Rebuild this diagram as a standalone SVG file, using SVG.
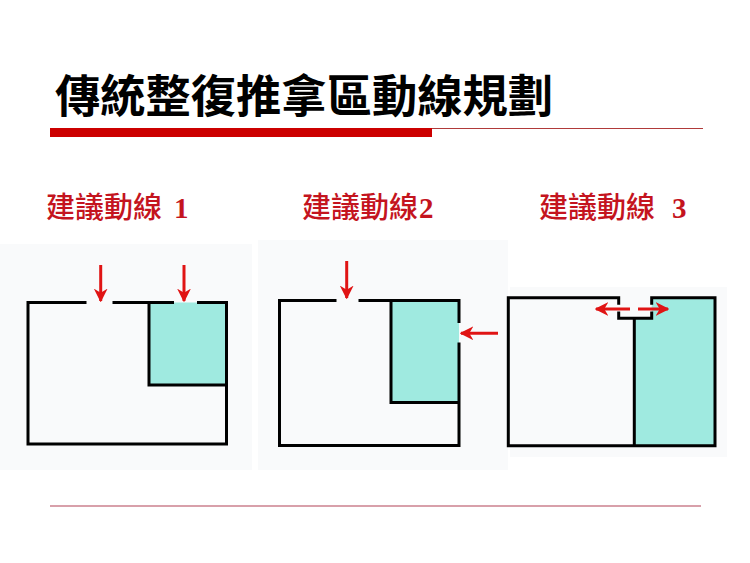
<svg xmlns="http://www.w3.org/2000/svg" width="750" height="563" viewBox="0 0 750 563">
<defs>
<style>
.wall{fill:none;stroke:#000;stroke-width:3;stroke-linecap:square}
.teal{fill:#9feae0}
.bg{fill:#f9fafb}
.flow{fill:none;stroke:#e01414;stroke-width:3}
.title{font-family:"Noto Sans CJK TC","Noto Sans CJK SC",sans-serif;font-size:45px;font-weight:700;fill:#000}
.lab{font-family:"Noto Sans CJK TC","Noto Sans CJK SC",serif;font-size:29px;font-weight:500;fill:#c4141e}
.num{font-family:"Liberation Serif",serif;font-weight:700;font-size:29px}
</style>
<marker id="ah" viewBox="0 0 10 10" refX="9" refY="5" markerWidth="4.6" markerHeight="4.6" orient="auto" markerUnits="strokeWidth">
<path d="M0,0 L10,5 L0,10 L3,5 z" fill="#e01414"/>
</marker>
</defs>
<rect width="750" height="563" fill="#fff"/>
<g id="header">
<text class="title" x="55" y="113" textLength="498" lengthAdjust="spacingAndGlyphs">傳統整復推拿區動線規劃</text>
<rect x="50" y="128" width="382" height="9" fill="#cc0000"/>
<line x1="432" y1="128.5" x2="703" y2="128.5" stroke="#b03a3a" stroke-width="1"/>
</g>
<g id="labels">
<text class="lab" x="46" y="218">建議動線<tspan class="num" x="174">1</tspan></text>
<text class="lab" x="302" y="218">建議動線<tspan class="num" x="419">2</tspan></text>
<text class="lab" x="539" y="218">建議動線<tspan class="num" x="672">3</tspan></text>
</g>
<g id="plan1">
<rect class="bg" x="0" y="244" width="252" height="226"/>
<rect class="teal" x="149" y="302.5" width="77.5" height="82.5"/>
<path class="wall" d="M85,302.5 H28 V444 H226.5 V302.5 H198.5 M114,302.5 H172.5 M149,302.5 V385 H226.5"/>
</g>
<g id="plan2">
<rect class="bg" x="258" y="240" width="250" height="230"/>
<rect class="teal" x="391" y="300.5" width="68" height="102"/>
<path class="wall" d="M335,300.5 H279.5 V445.5 H459 V344 M459,321.5 V300.5 H360 M391,300.5 V402.5 H459"/>
</g>
<g id="plan3">
<rect class="bg" x="510" y="287" width="217" height="170"/>
<path class="teal" d="M651.7,297.7 H715 V445.7 H634.3 V318.3 H651.7 Z"/>
<path class="wall" d="M618.7,303.3 V297.7 H508.3 V445.7 H715 V297.7 H651.7 V303.3 M618.7,313 V318.3 H651.7 V313 M634.3,318.3 V445.7"/>
</g>
<g id="connectors">
<line class="flow" x1="100.7" y1="265" x2="100.7" y2="301" marker-end="url(#ah)"/>
<line class="flow" x1="184" y1="265" x2="184" y2="301" marker-end="url(#ah)"/>
<line class="flow" x1="346.7" y1="261" x2="346.7" y2="298" marker-end="url(#ah)"/>
<line class="flow" x1="498" y1="333.3" x2="461" y2="333.3" marker-end="url(#ah)"/>
<line class="flow" x1="630" y1="309" x2="596" y2="309" marker-end="url(#ah)"/>
<line class="flow" x1="638" y1="309" x2="668" y2="309" marker-end="url(#ah)"/>
</g>
<line x1="50" y1="506" x2="701" y2="506" stroke="#d8a0aa" stroke-width="2"/>
</svg>
